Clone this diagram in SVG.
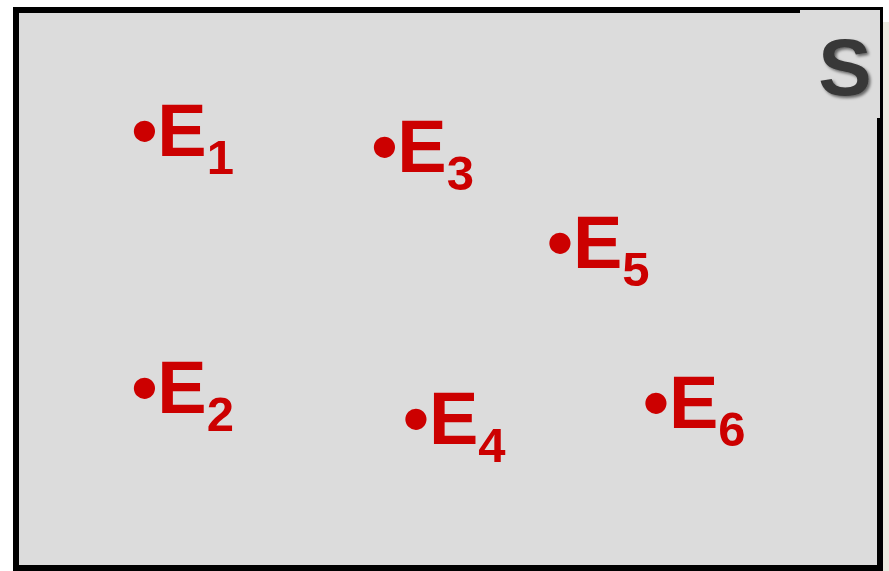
<svg xmlns="http://www.w3.org/2000/svg" width="889" height="571" viewBox="0 0 889 571">
<style>
.lbl{font-family:"Liberation Sans",Arial,sans-serif;font-weight:bold;font-size:74px;fill:#CC0000}
.sub{font-size:49px}
</style>
<defs>
<filter id="sh" x="-20%" y="-20%" width="150%" height="150%">
<feDropShadow dx="2" dy="2" stdDeviation="1.5" flood-color="#000" flood-opacity="0.55"/>
</filter>
</defs>
<rect x="0" y="0" width="889" height="571" fill="#FFFFFF"/>
<rect x="883" y="22" width="6" height="549" fill="#ECEAE0"/>
<g id="frame">
<rect x="16" y="10" width="864" height="558" fill="#DCDCDC" stroke="#000" stroke-width="6"/>
</g>
<g id="set-label">
<rect x="800" y="7" width="83" height="111" fill="#DCDCDC"/>
<rect x="800" y="7" width="83" height="3" fill="#000"/>
<rect x="880" y="7" width="3" height="111" fill="#000"/>
<text x="845" y="95" text-anchor="middle" font-family="'Liberation Sans',Arial,sans-serif" font-weight="bold" font-size="80" fill="#383838" filter="url(#sh)">S</text>
</g>
<g id="E1"><text class="lbl" x="131.4" y="156">•E<tspan class="sub" dy="18">1</tspan></text></g>
<g id="E2"><text class="lbl" x="131.4" y="412.7">•E<tspan class="sub" dy="18">2</tspan></text></g>
<g id="E3"><text class="lbl" x="371.4" y="172.3">•E<tspan class="sub" dy="18">3</tspan></text></g>
<g id="E4"><text class="lbl" x="403" y="444">•E<tspan class="sub" dy="18">4</tspan></text></g>
<g id="E5"><text class="lbl" x="547" y="267.7">•E<tspan class="sub" dy="18">5</tspan></text></g>
<g id="E6"><text class="lbl" x="643" y="428.3">•E<tspan class="sub" dy="18">6</tspan></text></g>
<g id="connectors"></g>
</svg>
